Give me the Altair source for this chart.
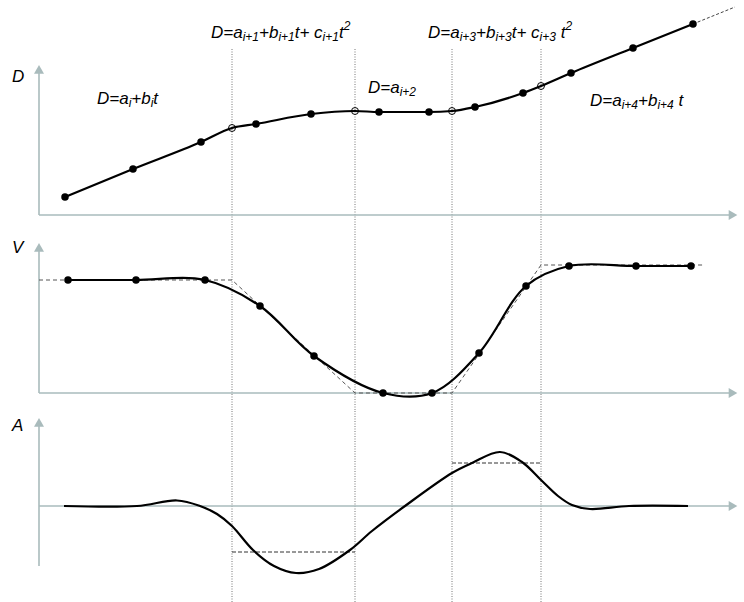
import altair as alt
import pandas as pd

# ---------------------------------------------------------------- data
# time of the four segment boundaries
T_BREAKS = [19.3, 31.6, 41.3, 50.2]

# distance D(t): observed samples and values at the boundaries
D_T = [2.6, 9.4, 16.2, 21.7, 27.2, 34.0, 39.0, 43.6, 48.4, 53.2, 59.4, 65.4]
D_V = [1.8, 4.6, 7.3, 9.1, 10.1, 10.3, 10.3, 10.8, 12.2, 14.2, 16.7, 19.1]
D_OPEN_T = [19.3, 31.6, 41.3, 50.2]
D_OPEN_V = [8.7, 10.4, 10.4, 12.9]
D_EXT_T = [65.4, 69.6]
D_EXT_V = [19.1, 20.8]

# speed V(t): samples and the piecewise-linear speed profile
V_T = [2.9, 9.7, 16.6, 22.1, 27.5, 34.4, 39.3, 44.0, 48.7, 53.0, 59.7, 65.2]
V_V = [11.3, 11.3, 11.3, 8.7, 3.7, 0.0, 0.0, 4.0, 10.7, 12.7, 12.7, 12.7]
V_PROF_T = [0.0, 19.3, 31.6, 41.3, 50.2, 66.6]
V_PROF_V = [11.3, 11.3, 0.0, 0.0, 12.8, 12.8]

# acceleration A(t): smooth curve and constant accelerations of the quadratic pieces
A_T = [2.5, 9.8, 13.8, 16.1, 17.8, 19.3, 21.4, 23.5, 25.7, 28.0, 31.1, 33.3,
       36.6, 41.3, 43.3, 46.1, 48.3, 50.2, 51.9, 53.3, 55.1, 59.0, 64.9]
A_V = [0.0, 0.0, 0.55, 0.0, -0.8, -2.0, -4.4, -6.0, -6.7, -6.3, -4.4, -2.5,
       0.0, 3.3, 4.3, 5.4, 4.4, 2.6, 1.0, 0.1, -0.3, 0.0, 0.0]
A_CONST_T0 = [19.3, 41.3]
A_CONST_T1 = [31.6, 50.2]
A_CONST_V = [-4.6, 4.3]

# ---------------------------------------------------------------- layout
W = 744
X_DOMAIN = [-3.9, 70.5]
PX_PER_T = W / (X_DOMAIN[1] - X_DOMAIN[0])
AXIS_COLOR = "#a9bbbc"
FONT = "Liberation Sans"
MAIN_SIZE = 17
SMALL_SIZE = 12

# Arial / Liberation Sans advance widths (1/1000 em) for the formula glyphs
ADV = {"D": 722, "=": 584, "a": 556, "b": 556, "c": 500, "t": 278, "+": 584,
       "i": 222, " ": 278, "1": 556, "2": 556, "3": 556, "4": 556}


def run_width(s, size):
    return sum(ADV[c] for c in s) * size / 1000.0


def formula(t0, v0, parts):
    """Lay out a formula as runs of normal, subscript and superscript text.
    A "gap" run only advances the pen (a word space)."""
    rows, cur = [], t0
    for txt, kind in parts:
        if kind != "gap":
            rows.append({"t": cur, "v": v0, "text": txt, "kind": kind})
        size = SMALL_SIZE if kind in ("sub", "sup") else MAIN_SIZE
        cur += run_width(txt, size) / PX_PER_T
    return rows


x_enc = alt.X("t:Q", scale=alt.Scale(domain=X_DOMAIN, nice=False, zero=False), axis=None)


def y_enc(dom, field="v"):
    return alt.Y(f"{field}:Q", scale=alt.Scale(domain=dom, nice=False, zero=False), axis=None)


def axes_layers(dom, v_bottom, arrow_v):
    ax = pd.DataFrame({"t": [0.0, 0.0], "t2": [69.4, 0.0], "v": [0.0, v_bottom], "v2": [0.0, arrow_v]})
    rules = alt.Chart(ax).mark_rule(color=AXIS_COLOR, strokeWidth=1.6).encode(
        x=x_enc, x2="t2:Q", y=y_enc(dom), y2="v2:Q")
    up = alt.Chart(pd.DataFrame({"t": [0.0], "v": [arrow_v]})).mark_point(
        shape="triangle-up", filled=True, size=100, color=AXIS_COLOR, opacity=1).encode(
        x=x_enc, y=y_enc(dom))
    right = alt.Chart(pd.DataFrame({"t": [69.4], "v": [0.0]})).mark_point(
        shape="triangle-right", filled=True, size=100, color=AXIS_COLOR, opacity=1).encode(
        x=x_enc, y=y_enc(dom))
    return [rules, up, right]


def breaks_layer(dom, v_top):
    df = pd.DataFrame({"t": T_BREAKS, "v": [dom[0]] * 4, "v2": [v_top] * 4})
    return alt.Chart(df).mark_rule(color="#666666", strokeWidth=0.9, strokeDash=[1, 1.5]).encode(
        x=x_enc, y=y_enc(dom), y2="v2:Q")


def text_layers(dom, rows):
    df = pd.DataFrame(rows)
    out = []
    for kind, size, dy in [("main", MAIN_SIZE, 0), ("sub", SMALL_SIZE, 3), ("sup", SMALL_SIZE, -8)]:
        sub = df[df["kind"] == kind]
        if len(sub):
            out.append(alt.Chart(sub).mark_text(
                align="left", baseline="alphabetic", font=FONT, fontStyle="italic",
                fontSize=size, dy=dy, color="#000000").encode(
                x=x_enc, y=y_enc(dom), text="text:N"))
    return out


def points(dom, ts, vs, open_=False):
    df = pd.DataFrame({"t": ts, "v": vs})
    if open_:
        m = alt.Chart(df).mark_point(shape="circle", filled=False, size=48, color="#000000",
                                     strokeWidth=1, opacity=1)
    else:
        m = alt.Chart(df).mark_point(shape="circle", filled=True, size=56, color="#000000", opacity=1)
    return m.encode(x=x_enc, y=y_enc(dom))


# ---------------------------------------------------------------- distance panel
D_DOM = [-1.5, 21.5]
d_curve = pd.DataFrame({"t": D_T + D_OPEN_T, "v": D_V + D_OPEN_V}).sort_values("t")
d_rows = (
    [{"t": -2.7, "v": 13.3, "text": "D", "kind": "main"}]
    + formula(5.8, 11.1, [("D=a", "main"), ("i", "sub"), ("+b", "main"), ("i", "sub"), ("t", "main")])
    + formula(17.2, 17.75, [("D=a", "main"), ("i+1", "sub"), ("+b", "main"), ("i+1", "sub"),
                            ("t+", "main"), (" ", "gap"), ("c", "main"), ("i+1", "sub"),
                            ("t", "main"), ("2", "sup")])
    + formula(32.9, 12.2, [("D=a", "main"), ("i+2", "sub")])
    + formula(38.9, 17.75, [("D=a", "main"), ("i+3", "sub"), ("+b", "main"), ("i+3", "sub"),
                            ("t+", "main"), (" ", "gap"), ("c", "main"), ("i+3", "sub"),
                            (" ", "gap"), ("t", "main"), ("2", "sup")])
    + formula(55.1, 10.9, [("D=a", "main"), ("i+4", "sub"), ("+b", "main"), ("i+4", "sub"),
                           (" ", "gap"), ("t", "main")])
)
d_panel = alt.layer(
    breaks_layer(D_DOM, 16.7),
    *axes_layers(D_DOM, 0.0, 14.57),
    alt.Chart(pd.DataFrame({"t": D_EXT_T, "v": D_EXT_V})).mark_line(
        color="#444444", strokeWidth=1, strokeDash=[3, 2]).encode(x=x_enc, y=y_enc(D_DOM)),
    alt.Chart(d_curve).mark_line(color="#000000", strokeWidth=2.2, interpolate="monotone").encode(
        x=x_enc, y=y_enc(D_DOM), order="t:Q"),
    points(D_DOM, D_OPEN_T, D_OPEN_V, open_=True),
    points(D_DOM, D_T, D_V),
    *text_layers(D_DOM, d_rows),
).properties(width=W, height=230)

# ---------------------------------------------------------------- speed panel
V_DOM = [-1.7, 16.3]
v_panel = alt.layer(
    breaks_layer(V_DOM, V_DOM[1]),
    *axes_layers(V_DOM, 0.0, 14.57),
    alt.Chart(pd.DataFrame({"t": V_PROF_T, "v": V_PROF_V})).mark_line(
        color="#555555", strokeWidth=1, strokeDash=[4, 3]).encode(x=x_enc, y=y_enc(V_DOM), order="t:Q"),
    alt.Chart(pd.DataFrame({"t": V_T, "v": V_V})).mark_line(
        color="#000000", strokeWidth=2.2, interpolate="catmull-rom").encode(
        x=x_enc, y=y_enc(V_DOM), order="t:Q"),
    points(V_DOM, V_T, V_V),
    *text_layers(V_DOM, [{"t": -2.7, "v": 14.0, "text": "V", "kind": "main"}]),
).properties(width=W, height=180)

# ---------------------------------------------------------------- acceleration panel
A_DOM = [-9.6, 9.6]
a_const = pd.DataFrame({"t": A_CONST_T0, "t2": A_CONST_T1, "v": A_CONST_V})
a_panel = alt.layer(
    breaks_layer(A_DOM, A_DOM[1]),
    *axes_layers(A_DOM, -6.0, 8.37),
    alt.Chart(a_const).mark_rule(color="#333333", strokeWidth=1, strokeDash=[4, 2]).encode(
        x=x_enc, x2="t2:Q", y=y_enc(A_DOM)),
    alt.Chart(pd.DataFrame({"t": A_T, "v": A_V})).mark_line(
        color="#000000", strokeWidth=2.2, interpolate="catmull-rom").encode(
        x=x_enc, y=y_enc(A_DOM), order="t:Q"),
    *text_layers(A_DOM, [{"t": -2.7, "v": 7.5, "text": "A", "kind": "main"}]),
).properties(width=W, height=192)

chart = (
    alt.vconcat(d_panel, v_panel, a_panel, spacing=0)
    .properties(padding=0, bounds="flush", background="white")
    .configure_view(stroke=None)
)

chart.save("out.html", embed_options={"renderer": "svg", "actions": False})
